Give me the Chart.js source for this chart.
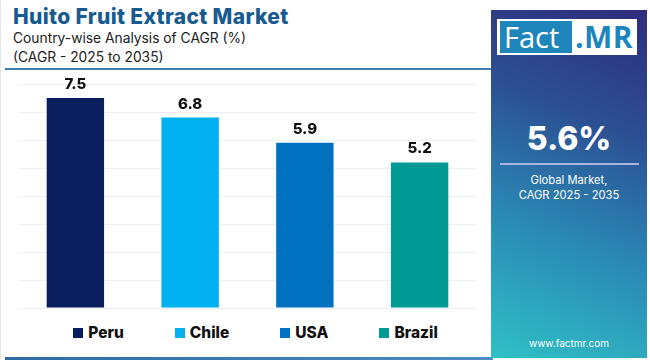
<!DOCTYPE html>
<html>
<head>
<meta charset="utf-8">
<script src="https://cdn.jsdelivr.net/npm/chart.js@4.4.0/dist/chart.umd.min.js"></script>
<style>
    body { margin: 0; width: 650px; height: 360px; background: #fff; font-family: 'Inter', 'Open Sans', sans-serif; overflow: hidden; position: relative; }
    #frame { position: absolute; left: 0; top: 0; width: 649px; height: 359px; border-left: 1px solid #e4e4e4; }
    #title { position: absolute; left: 13px; top: 4px; font-size: 21px; font-weight: 800; color: #175a8f; letter-spacing: 0.35px; }
    .sub { position: absolute; left: 13px; font-size: 13.8px; color: #222; }
    #rule { position: absolute; left: 5px; top: 68px; width: 486px; height: 2px; background: #3d7db3; }
    #bottomRule { position: absolute; left: 5px; top: 357px; width: 488px; height: 3px; background: linear-gradient(90deg, #2f6aa3, #4a8cc4); }
    #chartBox { position: absolute; left: 0; top: 72px; width: 490px; height: 250px; }
    #legend { position: absolute; left: 0; top: 323px; width: 511px; display: flex; justify-content: center; gap: 51px; }
    .item { display: flex; align-items: center; font-weight: 800; font-size: 15.5px; color: #111; }
    .swatch { width: 10px; height: 10px; margin-right: 5px; }
    #panel { position: absolute; left: 491px; top: 10px; width: 156px; height: 348px;
        background: linear-gradient(22deg, #30c0c6 0%, #2a86b4 38%, #2c4f92 68%, #2e2c7c 100%); color: #fff; text-align: center; }
    #logo { position: absolute; left: 6px; top: 9px; width: 140px; height: 36px; background: #fff; }
    #logoFact { position: absolute; left: 3px; top: 2px; width: 72px; height: 32px; background: #1e86ba; color: #fff; font-family: 'Open Sans', sans-serif; font-size: 29px; line-height: 32px; text-align: left; padding-left: 4px; box-sizing: border-box; }
    #logoMR { position: absolute; left: 78px; top: 2px; height: 32px; color: #1e86ba; font-family: 'Open Sans', sans-serif; font-weight: 700; font-size: 30px; line-height: 32px; letter-spacing: 0.5px; }
    #big { position: absolute; left: 0; width: 156px; top: 109px; font-size: 32px; font-weight: 800; }
    #panelRule { position: absolute; left: 9px; top: 153px; width: 139px; height: 2px; background: #a9b6e0; }
    #cagrNote { position: absolute; left: 0; width: 156px; top: 163px; font-size: 11.2px; line-height: 14.5px; }
    #site { position: absolute; left: 0; width: 156px; top: 327px; font-size: 10px; }
</style>
</head>
<body>
<div id="frame"></div>
<div id="title">Huito Fruit Extract Market</div>
<div class="sub" style="top:30px">Country-wise Analysis of CAGR (%)</div>
<div class="sub" style="top:49px">(CAGR - 2025 to 2035)</div>
<div id="rule"></div>
<div id="chartBox"><canvas id="chart"></canvas></div>
<div id="legend"></div>
<div id="bottomRule"></div>
<div id="panel">
    <div id="logo"><div id="logoFact">Fact</div><div id="logoMR">.MR</div></div>
    <div id="big">5.6%</div>
    <div id="panelRule"></div>
    <div id="cagrNote">Global Market,<br>CAGR 2025 - 2035</div>
    <div id="site">www.factmr.com</div>
</div>
<script>
// Data
const countries = ['Peru', 'Chile', 'USA', 'Brazil'];
const cagrValues = [7.5, 6.8, 5.9, 5.2];
const barColors = ['#0b1f5e', '#00b0ef', '#0070c0', '#009a94'];
const yTicks = [0, 1, 2, 3, 4, 5, 6, 7, 8];

// Value labels above each bar
const valueLabels = {
    id: 'valueLabels',
    afterDatasetsDraw(chart) {
        const ctx = chart.ctx;
        const meta = chart.getDatasetMeta(0);
        ctx.save();
        ctx.font = '800 15px Inter, sans-serif';
        ctx.fillStyle = '#111';
        ctx.textAlign = 'center';
        ctx.textBaseline = 'bottom';
        meta.data.forEach((bar, i) => {
            ctx.fillText(cagrValues[i].toFixed(1), bar.x, bar.y - 6);
        });
        ctx.restore();
    }
};

new Chart(document.getElementById('chart'), {
    type: 'bar',
    data: {
        labels: countries,
        datasets: [{
            data: cagrValues,
            backgroundColor: barColors,
            barPercentage: 0.5,
            categoryPercentage: 1
        }]
    },
    options: {
        responsive: true,
        maintainAspectRatio: false,
        animation: false,
        layout: { padding: { left: 18, right: 13, top: 12, bottom: 14 } },
        plugins: { legend: { display: false }, tooltip: { enabled: false } },
        scales: {
            x: { display: false },
            y: {
                min: yTicks[0],
                max: yTicks[yTicks.length - 1],
                afterBuildTicks: axis => { axis.ticks = yTicks.map(v => ({ value: v })); },
                ticks: { display: false },
                border: { display: false },
                grid: { color: '#eceff3', drawTicks: false }
            }
        }
    },
    plugins: [valueLabels]
});

// Legend
const legend = document.getElementById('legend');
countries.forEach((name, i) => {
    const item = document.createElement('div');
    item.className = 'item';
    const sw = document.createElement('span');
    sw.className = 'swatch';
    sw.style.background = barColors[i];
    item.appendChild(sw);
    item.appendChild(document.createTextNode(name));
    legend.appendChild(item);
});
</script>
</body>
</html>
